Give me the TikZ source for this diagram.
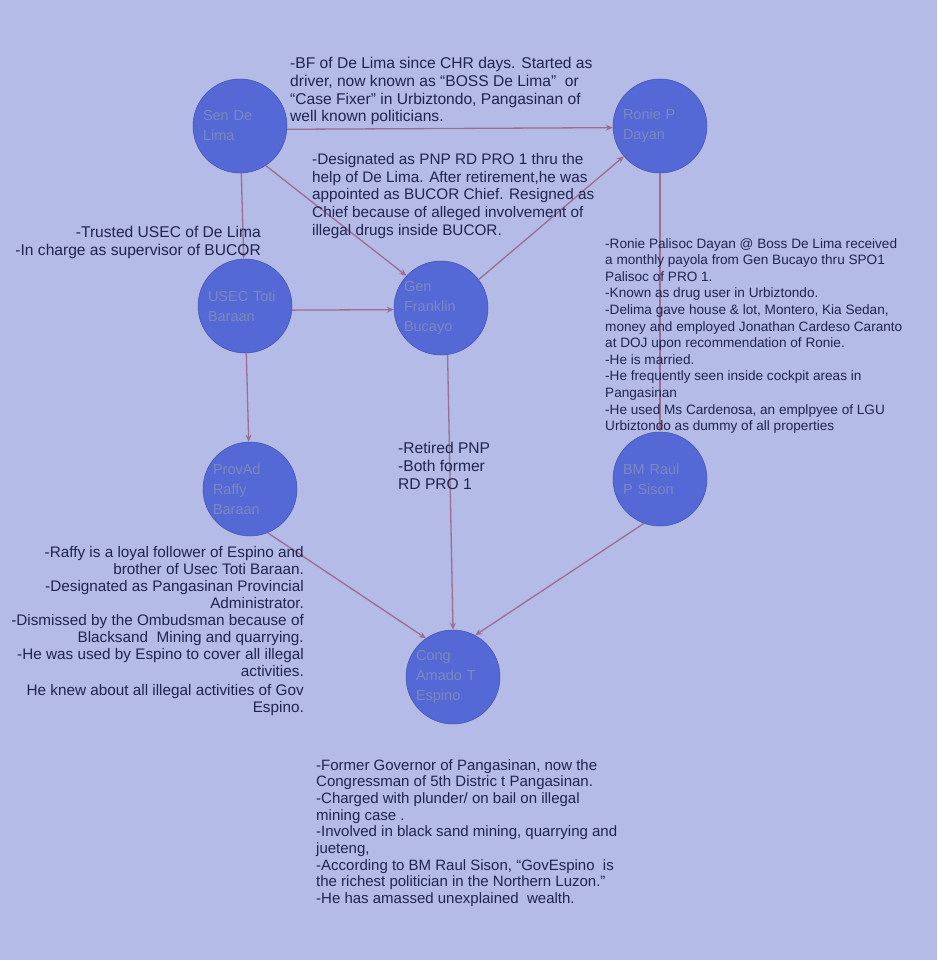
\documentclass[tikz,border=0pt]{standalone}
\usepackage{fontspec}
\setmainfont{Liberation Sans}
\usetikzlibrary{arrows.meta}
\definecolor{bg}{HTML}{B4BBE6}
\definecolor{nodefill}{HTML}{5468D6}
\definecolor{nodetext}{HTML}{7D89BE}
\definecolor{ink}{HTML}{20254F}
\definecolor{edge}{HTML}{9B6E93}
\tikzset{
  person/.style={circle, fill=nodefill, draw=nodefill!80!black, line width=0.5pt,
    minimum size=94pt, inner sep=0pt, text=nodetext, align=left, text width=74pt,
    font=\fontsize{14.5}{20}\selectfont},
  note/.style={text=ink, inner sep=0pt, font=\fontsize{15.6}{17.8}\selectfont},
  notesm/.style={text=ink, inner sep=0pt, font=\fontsize{13.6}{16.6}\selectfont},
  link/.style={draw=edge, line width=1.3pt, -{Stealth[length=7pt,width=6pt]}}
}
\begin{document}
\begin{tikzpicture}[x=1pt,y=-1pt]
\fill[bg] (0,0) rectangle (937,960);
\useasboundingbox (0,0) rectangle (937,960);

\node[person] (sen) at (240,126) {Sen De\\Lima};
\node[person] (ronie) at (660,126) {Ronie P\\Dayan};
\node[person] (usec) at (245,306) {USEC Toti\\Baraan};
\node[person] (gen) at (441,308) {Gen\\Franklin\\Bucayo};
\node[person] (provad) at (250,489) {ProvAd\\Raffy\\Baraan};
\node[person] (bm) at (660,479) {BM Raul\\P Sison};
\node[person] (cong) at (453,677) {Cong\\Amado T\\Espino};

\draw[link] (sen.-4) -- (ronie.182);
\draw[link] (sen) -- (usec);
\draw[link] (sen.-57) -- (gen.137);
\draw[link] (gen.37) -- (ronie.220);
\draw[link] (usec.-5) -- (gen.182);
\draw[link] (usec) -- (provad);
\draw[link] (ronie) -- (bm);
\draw[link] (gen.-82) -- (cong.90);
\draw[link] (provad.-68) -- (cong.125);
\draw[link] (bm.-110) -- (cong.62);

\node[note, anchor=north west, align=left] (t1) at (290,57)
{-BF of De Lima since CHR days. Started as\\
driver, now known as “BOSS De Lima”~ or\\
“Case Fixer” in Urbiztondo, Pangasinan of\\
well known politicians.};

\node[note, anchor=north west, align=left, font=\fontsize{15.3}{17.8}\selectfont] (t2) at (312,153)
{-Designated as PNP RD PRO 1 thru the\\
help of De Lima. After retirement,he was\\
appointed as BUCOR Chief. Resigned as\\
Chief because of alleged involvement of\\
illegal drugs inside BUCOR.};

\node[note, anchor=north east, align=right] (t3) at (261,226)
{-Trusted USEC of De Lima\\
-In charge as supervisor of BUCOR};

\node[notesm, anchor=north west, align=left] (t4) at (605,238)
{-Ronie Palisoc Dayan @ Boss De Lima received\\
a monthly payola from Gen Bucayo thru SPO1\\
Palisoc of PRO 1.\\
-Known as drug user in Urbiztondo.\\
-Delima gave house \& lot, Montero, Kia Sedan,\\
money and employed Jonathan Cardeso Caranto\\
at DOJ upon recommendation of Ronie.\\
-He is married.\\
-He frequently seen inside cockpit areas in\\
Pangasinan\\
-He used Ms Cardenosa, an emplpyee of LGU\\
Urbiztondo as dummy of all properties};

\node[note, anchor=north west, align=left] (t5) at (398,442)
{-Retired PNP\\
-Both former\\
RD PRO 1};

\node[note, anchor=north east, align=right, font=\fontsize{15.3}{17.1}\selectfont] (t6) at (304,546)
{-Raffy is a loyal follower of Espino and\\
brother of Usec Toti Baraan.\\
-Designated as Pangasinan Provincial\\
Administrator.\\
-Dismissed by the Ombudsman because of\\
Blacksand~ Mining and quarrying.\\
-He was used by Espino to cover all illegal\\
activities.\\[1pt]
He knew about all illegal activities of Gov\\
Espino.};

\node[note, anchor=north west, align=left, font=\fontsize{15}{16.7}\selectfont] (t7) at (316,759)
{-Former Governor of Pangasinan, now the\\
Congressman of 5th Distric t Pangasinan.\\
-Charged with plunder/ on bail on illegal\\
mining case .\\
-Involved in black sand mining, quarrying and\\
jueteng,\\
-According to BM Raul Sison, “GovEspino~ is\\
the richest politician in the Northern Luzon.”\\
-He has amassed unexplained~ wealth.};
\end{tikzpicture}
\end{document}
